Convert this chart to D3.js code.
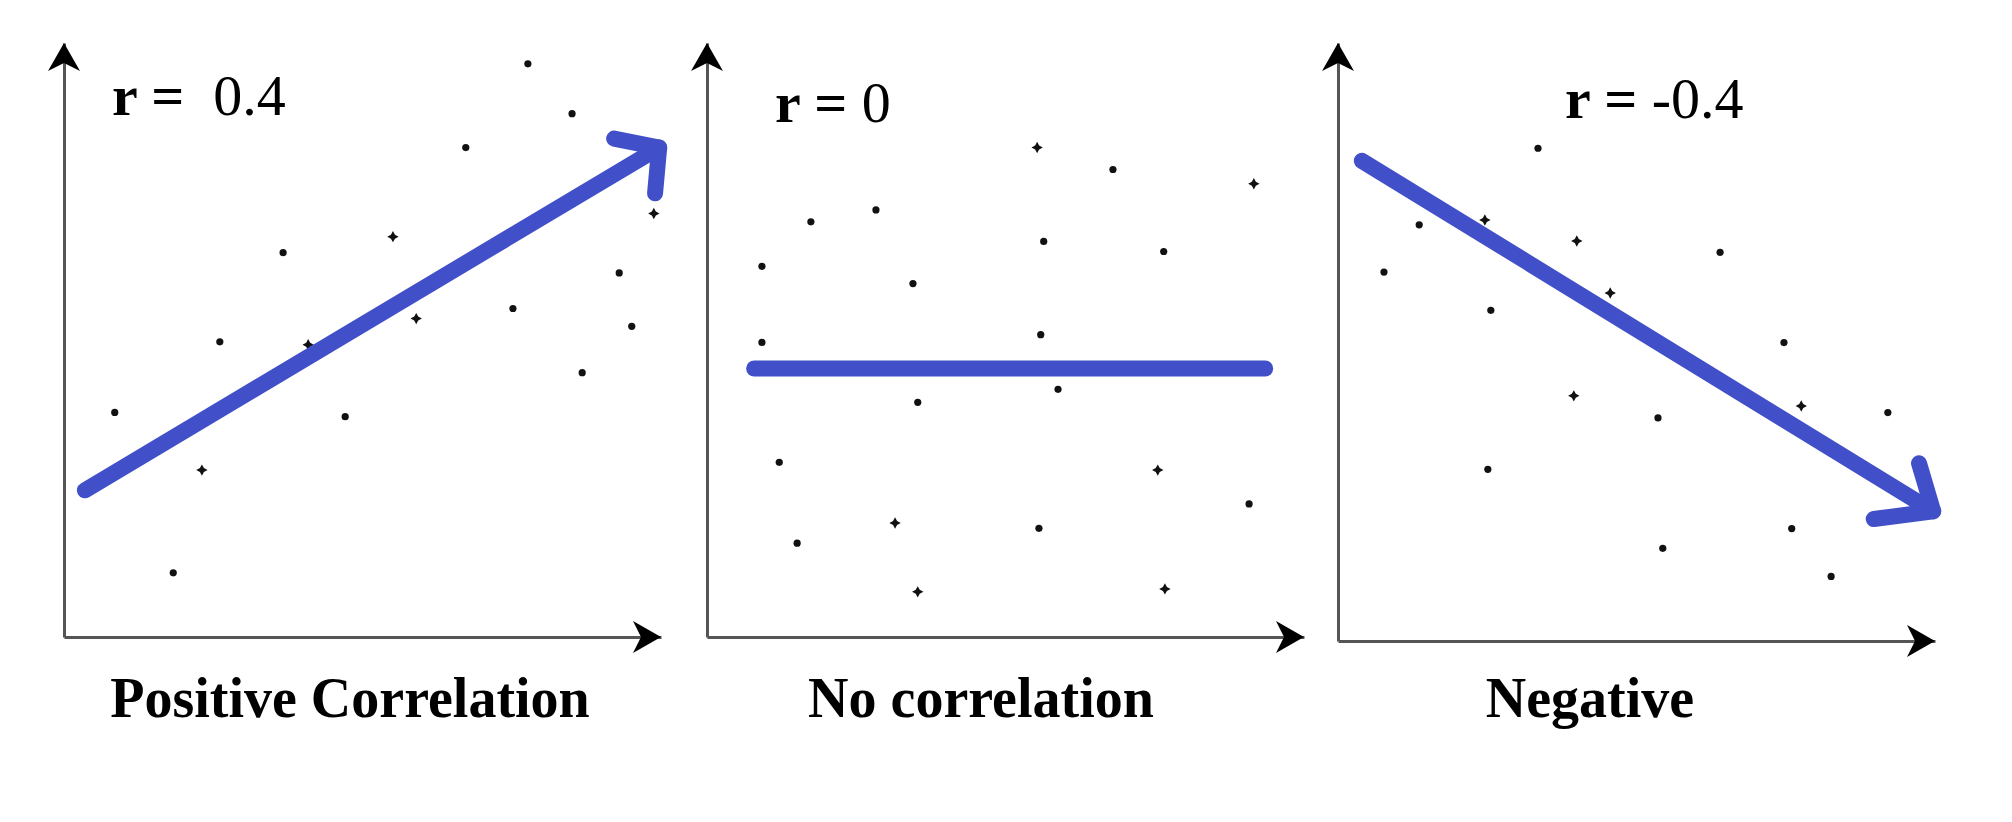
<!DOCTYPE html>
<html>
<head>
<meta charset="utf-8">
<script src="https://cdn.jsdelivr.net/npm/d3@7"></script>
<style>
  html, body { margin: 0; padding: 0; background: #fff; }
  svg { display: block; }
</style>
</head>
<body>
<svg id="chart" width="2012" height="822"></svg>
<script>
  // data, in 0-100 units on each little plot
  var titles = ['Positive Correlation', 'No correlation', 'Negative']
  var rValues = [' 0.4', '0', '-0.4']

  // [x, y, kind]  kind 1 = small star marker, 0 = dot
  var positivePts = [
    [77.7, 96.5, 0], [85.1, 88.1, 0], [67.3, 82.4, 0], [98.8, 71.3, 1],
    [55.1, 67.4, 1], [36.7, 64.7, 0], [93.0, 61.3, 0], [75.2, 55.3, 0],
    [95.1, 52.3, 0], [59.0, 53.6, 1], [26.1, 49.7, 0], [40.9, 49.2, 1],
    [86.8, 44.5, 0], [8.5, 37.8, 0], [47.1, 37.1, 0], [23.1, 28.1, 1],
    [18.3, 10.8, 0]
  ]
  var nonePts = [
    [55.3, 82.4, 1], [68.0, 78.7, 0], [91.6, 76.3, 1], [28.3, 71.9, 0],
    [17.4, 69.9, 0], [56.4, 66.6, 0], [76.5, 64.9, 0], [9.2, 62.4, 0],
    [34.5, 59.5, 0], [55.9, 50.9, 0], [9.2, 49.6, 0], [58.8, 41.7, 0],
    [35.3, 39.5, 0], [12.1, 29.4, 0], [75.5, 28.1, 1], [90.8, 22.4, 0],
    [31.5, 19.2, 1], [55.6, 18.3, 0], [15.1, 15.8, 0], [35.3, 7.6, 1],
    [76.7, 8.1, 1]
  ]
  var negativePts = [
    [33.5, 82.4, 0], [13.6, 69.6, 0], [24.6, 70.4, 1], [40.0, 66.9, 1],
    [64.0, 65.0, 0], [7.7, 61.7, 0], [45.6, 58.2, 1], [25.6, 55.3, 0],
    [74.7, 49.9, 0], [39.5, 41.0, 1], [77.6, 39.3, 1], [92.1, 38.2, 0],
    [53.6, 37.3, 0], [25.1, 28.7, 0], [76.0, 18.8, 0], [54.4, 15.5, 0],
    [82.6, 10.8, 0]
  ]

  // trend strokes: start, end
  var positiveTrend = [[3.5, 24.7], [99.7, 82.4]]
  var noneTrend = [[7.9, 45.2], [93.5, 45.2]]
  var negativeTrend = [[4.0, 80.3], [99.7, 21.7]]

  var pointSets = [positivePts, nonePts, negativePts]
  var trendSets = [positiveTrend, noneTrend, negativeTrend]

  //
  // layout
  //
  var panels = [
    // head: [spread a (deg), length a, spread b, length b] or null
    { ox: 64, oy: 637, rx: 112, ry: 115, tx: 350, head: [42, 46, -54, 46] },
    { ox: 707, oy: 637, rx: 775, ry: 122, tx: 981, head: null },
    { ox: 1338, oy: 641, rx: 1565, ry: 118, tx: 1590, head: [42, 50, -39, 60] }
  ]
  var plotW = 597
  var topY = 43
  var blue = '#4150c8'
  var axisColor = '#555'
  var serif = '"Liberation Serif", "DejaVu Serif", serif'

  // little 4 point star, like the printed "+" dots
  var star4 = {
    draw: function (ctx, size) {
      var r = Math.sqrt(size) * 0.9, q = r * 0.35
      ctx.moveTo(0, -r)
      ctx.lineTo(q, -q)
      ctx.lineTo(r, 0)
      ctx.lineTo(q, q)
      ctx.lineTo(0, r)
      ctx.lineTo(-q, q)
      ctx.lineTo(-r, 0)
      ctx.lineTo(-q, -q)
      ctx.closePath()
    }
  }

  var svg = d3.select('#chart')

  panels.forEach(function (p, i) {
    var x = d3.scaleLinear().domain([0, 100]).range([p.ox, p.ox + plotW])
    var y = d3.scaleLinear().domain([0, 100]).range([p.oy, topY])
    var g = svg.append('g')

    // axes, no ticks
    g.append('g')
      .attr('transform', 'translate(0,' + p.oy + ')')
      .call(d3.axisBottom(x).ticks(0).tickSizeOuter(0))
    g.append('g')
      .attr('transform', 'translate(' + p.ox + ',0)')
      .call(d3.axisLeft(y).ticks(0).tickSizeOuter(0))
    g.selectAll('.domain')
      .attr('stroke', axisColor)
      .attr('stroke-width', 3)

    // arrow heads on the axes
    var tipX = x(100), tipY = y(100)
    g.append('path')
      .attr('d', 'M' + tipX + ',' + p.oy + 'L' + (tipX - 28) + ',' + (p.oy - 16) +
        'L' + (tipX - 20) + ',' + p.oy + 'L' + (tipX - 28) + ',' + (p.oy + 16) + 'Z')
      .attr('fill', '#000')
    g.append('path')
      .attr('d', 'M' + p.ox + ',' + tipY + 'L' + (p.ox - 16) + ',' + (tipY + 28) +
        'L' + p.ox + ',' + (tipY + 20) + 'L' + (p.ox + 16) + ',' + (tipY + 28) + 'Z')
      .attr('fill', '#000')

    // points
    var pts = pointSets[i]
    g.selectAll('circle.dot')
      .data(pts.filter(function (d) { return d[2] === 0 }))
      .enter().append('circle')
      .attr('class', 'dot')
      .attr('cx', function (d) { return x(d[0]) })
      .attr('cy', function (d) { return y(d[1]) })
      .attr('r', 3.6)
      .attr('fill', '#111')
    var mark = d3.symbol().type(star4).size(40)
    g.selectAll('path.mark')
      .data(pts.filter(function (d) { return d[2] === 1 }))
      .enter().append('path')
      .attr('class', 'mark')
      .attr('d', mark)
      .attr('transform', function (d) { return 'translate(' + x(d[0]) + ',' + y(d[1]) + ')' })
      .attr('fill', '#111')

    // blue trend stroke
    var tr = trendSets[i]
    var line = d3.line().x(function (d) { return x(d[0]) }).y(function (d) { return y(d[1]) })
    g.append('path')
      .attr('d', line(tr))
      .attr('fill', 'none')
      .attr('stroke', blue)
      .attr('stroke-width', 16)
      .attr('stroke-linecap', 'round')

    if (p.head) {
      var x0 = x(tr[0][0]), y0 = y(tr[0][1])
      var x1 = x(tr[1][0]), y1 = y(tr[1][1])
      var back = Math.atan2(y0 - y1, x0 - x1)
      var h = p.head, rad = Math.PI / 180
      var a1 = [x1 + h[1] * Math.cos(back + h[0] * rad), y1 + h[1] * Math.sin(back + h[0] * rad)]
      var a2 = [x1 + h[3] * Math.cos(back + h[2] * rad), y1 + h[3] * Math.sin(back + h[2] * rad)]
      g.append('path')
        .attr('d', 'M' + a1 + 'L' + x1 + ',' + y1 + 'L' + a2)
        .attr('fill', 'none')
        .attr('stroke', blue)
        .attr('stroke-width', 16)
        .attr('stroke-linecap', 'round')
        .attr('stroke-linejoin', 'round')
    }

    // r = ... label
    var rt = g.append('text')
      .attr('x', p.rx)
      .attr('y', p.ry)
      .attr('font-family', serif)
      .attr('font-size', 58)
      .attr('fill', '#000')
      .style('white-space', 'pre')
    rt.append('tspan').attr('font-weight', 'bold').text('r = ')
    rt.append('tspan').text(rValues[i])

    // caption
    g.append('text')
      .attr('x', p.tx)
      .attr('y', 717)
      .attr('text-anchor', 'middle')
      .attr('font-family', serif)
      .attr('font-weight', 'bold')
      .attr('font-size', 56)
      .attr('fill', '#000')
      .text(titles[i])
  })
</script>
</body>
</html>
